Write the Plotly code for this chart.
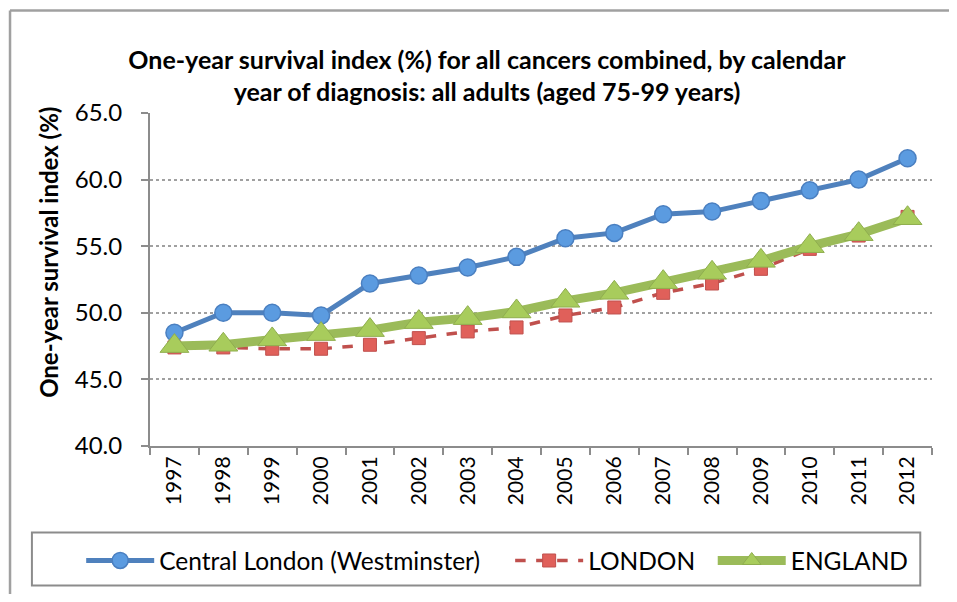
import plotly.graph_objects as go

# One-year survival index (%), all cancers, adults aged 75-99
years = [str(y) for y in range(1997, 2013)]
central_london = [48.5, 50.0, 50.0, 49.8, 52.2, 52.8, 53.4, 54.2, 55.6, 56.0, 57.4, 57.6, 58.4, 59.2, 60.0, 61.6]
london = [47.4, 47.4, 47.3, 47.3, 47.6, 48.1, 48.6, 48.9, 49.8, 50.4, 51.5, 52.2, 53.3, 54.8, 55.8, 57.2]
england = [47.5, 47.6, 48.0, 48.4, 48.7, 49.3, 49.6, 50.1, 50.9, 51.5, 52.3, 53.0, 53.9, 55.0, 55.9, 57.1]
y_ticks = [40, 45, 50, 55, 60, 65]

FONT = "Lato, Calibri, sans-serif"
AXIS_GREY = "#8c8c8c"
NB = "\u00a0"

fig = go.Figure()

fig.add_trace(go.Scatter(
    x=years, y=central_london, name="Central London (Westminster)" + NB * 4,
    mode="lines+markers",
    line=dict(color="#4F81BD", width=5),
    marker=dict(symbol="circle", size=17, color="#5b9be0",
                line=dict(color="#4a7fc0", width=1.5)),
))
fig.add_trace(go.Scatter(
    x=years, y=london, name="LONDON" + NB * 2,
    mode="lines+markers",
    line=dict(color="#C0504D", width=3.5, dash="dash"),
    marker=dict(symbol="square", size=13, color="#e0605a",
                line=dict(color="#c0504d", width=1)),
))
fig.add_trace(go.Scatter(
    x=years, y=england, name="ENGLAND",
    mode="lines+markers",
    line=dict(color="#9BBB59", width=9),
    marker=dict(symbol="triangle-up", size=25, color="#a8cc5c",
                line=dict(color="#8fae4e", width=1)),
))

# page body adds 8px offset, so size the figure to avoid overflow
fig.update_layout(
    width=941, height=586,
    margin=dict(l=142, r=17, t=105, b=147),
    paper_bgcolor="white", plot_bgcolor="white",
    font=dict(family=FONT, size=20, color="black"),
    title=dict(
        text="<b>One-year survival index (%) for all cancers combined, by calendar<br>year of diagnosis: all adults (aged 75-99 years)</b>",
        x=0.509, xanchor="center", xref="container",
        y=0.896, yanchor="middle", yref="container",
        font=dict(size=25, family=FONT),
    ),
    showlegend=True,
    legend=dict(
        orientation="h", x=-0.088, xanchor="left", y=-0.34, yanchor="middle",
        borderwidth=0, bgcolor="rgba(0,0,0,0)",
        font=dict(size=24.5, family=FONT),
        itemwidth=68, tracegroupgap=0,
    ),
)

fig.update_xaxes(
    type="category", range=[-0.5, 15.5],
    showline=True, linecolor=AXIS_GREY, linewidth=2,
    ticks="outside", tickson="boundaries", ticklen=7, tickwidth=2, tickcolor=AXIS_GREY,
    tickangle=-90, showgrid=False,
    tickfont=dict(size=21, family=FONT),
)
fig.update_yaxes(
    range=[40, 65], tickvals=y_ticks, tickformat=".1f",
    showline=True, linecolor=AXIS_GREY, linewidth=2,
    ticks="outside", ticklen=7, tickwidth=2, tickcolor=AXIS_GREY,
    ticklabelstandoff=14,
    showgrid=True, gridcolor="#a0a0a0", gridwidth=2, griddash="dot",
    zeroline=False,
    tickfont=dict(size=24, family=FONT),
)

# y-axis title
fig.add_annotation(
    text="<b>One-year survival index (%)</b>", textangle=-90,
    xref="paper", yref="paper", x=-0.130, y=0.581,
    xanchor="center", yanchor="middle", showarrow=False,
    font=dict(size=24, family=FONT),
)

# legend frame
fig.add_shape(type="rect", xref="paper", yref="paper",
              x0=-0.151, x1=0.985, y0=-0.260, y1=-0.419,
              line=dict(color="#8c8c8c", width=2))

# outer chart frame (cropped at right and bottom)
fig.add_shape(type="line", xref="paper", yref="paper",
              x0=-0.179, x1=1.05, y0=1.308, y1=1.308,
              line=dict(color="#a0a0a0", width=2.5))
fig.add_shape(type="line", xref="paper", yref="paper",
              x0=-0.179, x1=-0.179, y0=1.308, y1=-0.5,
              line=dict(color="#a0a0a0", width=2.5))

fig.write_html(
    "out.html",
    config={"displayModeBar": False},
    post_script="document.documentElement.style.overflow='hidden';document.body.style.overflow='hidden';",
)
